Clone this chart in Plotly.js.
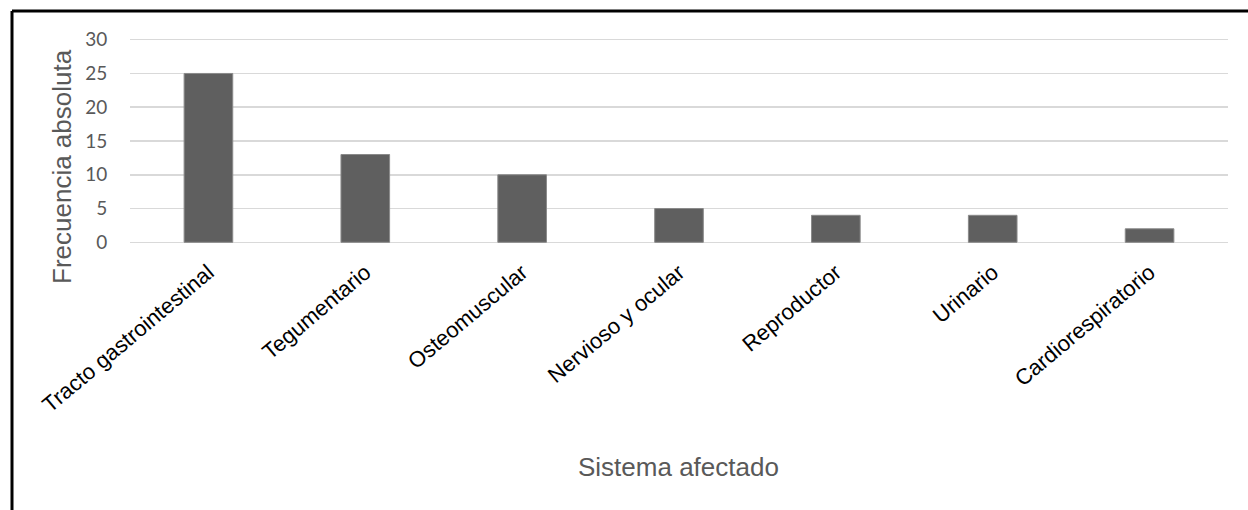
<!DOCTYPE html>
<html>
<head>
<meta charset="utf-8">
<script src="https://cdn.plot.ly/plotly-3.0.1.min.js"></script>
<style>
html,body{margin:0;padding:0;background:#fff;}
#chart{width:1248px;height:510px;}
</style>
</head>
<body>
<div id="chart"></div>
<script>
const categories = ["Tracto gastrointestinal","Tegumentario","Osteomuscular","Nervioso y ocular","Reproductor","Urinario","Cardiorespiratorio"];
const values = [25, 13, 10, 5, 4, 4, 2];
const yTicks = [0, 5, 10, 15, 20, 25, 30];

const W = 1248, H = 510;
const L = 130, R = 20, T = 38, B = 266;
const pw = W - L - R, ph = H - T - B;
const px = x => (x - L) / pw;
const py = y => (H - B - y) / ph;

const trace = {
  type: 'bar',
  x: categories,
  y: values,
  marker: {color: '#5f5f5f', line: {color: '#8a8a8a', width: 1}},
  hoverinfo: 'x+y'
};

const layout = {
  width: W, height: H,
  margin: {l: L, r: R, t: T, b: B, pad: 0},
  paper_bgcolor: '#ffffff',
  plot_bgcolor: '#ffffff',
  showlegend: false,
  bargap: 0.69,
  font: {family: 'Liberation Sans, Arial, sans-serif', color: '#595959'},
  xaxis: {
    type: 'category',
    tickangle: -40,
    tickfont: {size: 22, color: '#000000', family: 'Liberation Sans, Arial, sans-serif'},
    showgrid: false,
    showline: false,
    zeroline: false,
    ticks: 'outside',
    ticklen: 6,
    tickcolor: 'rgba(0,0,0,0)',
    automargin: false
  },
  yaxis: {
    range: [-0.25, 30.25],
    tickvals: yTicks,
    ticktext: yTicks.map(String),
    tickfont: {size: 19, color: '#595959', family: 'Lato, Liberation Sans, sans-serif'},
    showgrid: true,
    gridcolor: '#d9d9d9',
    gridwidth: 1.5,
    zeroline: false,
    showline: false,
    ticks: 'outside',
    ticklen: 18,
    tickcolor: 'rgba(0,0,0,0)',
    automargin: false
  },
  annotations: [
    {text: 'Frecuencia absoluta', xref: 'paper', yref: 'paper', x: px(62), y: py(167),
     showarrow: false, textangle: -90, font: {size: 26, color: '#595959'}, xanchor: 'center', yanchor: 'middle'},
    {text: 'Sistema afectado', xref: 'paper', yref: 'paper', x: px(678), y: py(467),
     showarrow: false, font: {size: 26, color: '#595959'}, xanchor: 'center', yanchor: 'middle'}
  ],
  shapes: [
    {type: 'line', xref: 'paper', yref: 'paper', x0: px(12), x1: px(W + 5), y0: py(11), y1: py(11), line: {color: '#000', width: 3}},
    {type: 'line', xref: 'paper', yref: 'paper', x0: px(12), x1: px(12), y0: py(11), y1: py(H + 5), line: {color: '#000', width: 3}}
  ]
};

Plotly.newPlot('chart', [trace], layout, {staticPlot: true, displayModeBar: false});
</script>
</body>
</html>
